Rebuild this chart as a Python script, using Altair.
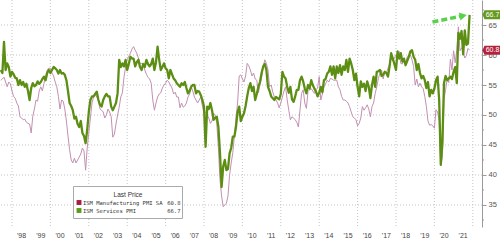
import altair as alt
import pandas as pd

series_names = ["ISM Manufacturing PMI SA", "ISM Services PMI"]
start_year, start_month = 1997, 5  # first monthly reading: May 1997

# ISM Manufacturing PMI SA, monthly (May 1997 - Oct 2021)
mfg_years = [
    [55.8, 56.0, 56.3, 55.5, 54.7, 55.5, 55.2, 54.0],
    [53.1, 52.8, 52.0, 51.5, 49.7, 49.5, 49.2, 49.3, 48.8, 48.6, 48.5, 47.0],
    [49.8, 51.0, 52.5, 52.3, 54.0, 54.7, 54.0, 55.3, 56.5, 57.5, 57.8, 57.8],
    [57.0, 56.5, 55.5, 54.7, 53.1, 51.0, 52.5, 52.3, 51.0, 49.0, 46.5, 44.2],
    [42.5, 42.0, 42.8, 42.0, 42.5, 43.0, 43.5, 44.5, 44.0, 40.8, 44.5, 47.0],
    [49.5, 52.0, 53.0, 53.5, 53.0, 52.5, 51.0, 50.8, 50.5, 49.5, 50.0, 51.0],
    [50.5, 49.7, 46.3, 46.8, 48.5, 50.0, 51.3, 53.0, 53.7, 56.3, 58.0, 59.2],
    [59.8, 60.3, 61.0, 61.4, 60.8, 60.3, 59.5, 58.6, 58.6, 58.6, 57.5, 56.8],
    [56.3, 56.0, 55.3, 52.5, 50.8, 52.0, 53.0, 53.5, 53.7, 54.5, 55.0, 55.3],
    [55.8, 55.5, 55.0, 54.5, 53.5, 53.8, 53.0, 53.0, 51.2, 52.0, 51.3, 51.5],
    [52.0, 53.0, 53.5, 54.7, 54.0, 53.0, 52.5, 52.0, 52.5, 53.0, 51.5, 50.3],
    [50.5, 50.0, 49.5, 48.6, 49.0, 50.3, 50.0, 48.6, 44.5, 39.2, 36.5, 34.7],
    [35.0, 35.3, 36.5, 40.0, 42.0, 43.7, 46.5, 49.5, 52.0, 56.5, 56.7, 56.0],
    [55.5, 56.5, 58.6, 58.2, 57.5, 56.5, 57.0, 56.0, 55.8, 53.7, 55.0, 56.3],
    [58.0, 59.2, 58.6, 57.5, 54.7, 55.0, 53.8, 53.0, 52.5, 52.0, 51.2, 52.0],
    [53.0, 54.0, 54.7, 52.5, 50.8, 49.2, 49.7, 49.5, 49.2, 48.8, 48.0, 50.8],
    [53.6, 54.2, 52.0, 51.1, 53.9, 54.2, 54.4, 54.0, 53.6, 54.2, 54.5, 56.4],
    [52.5, 53.5, 54.7, 55.2, 55.8, 55.5, 56.1, 56.0, 55.8, 55.8, 55.8, 54.7],
    [54.2, 53.1, 52.5, 52.5, 52.3, 52.0, 51.4, 50.5, 49.7, 49.5, 49.2, 48.2],
    [48.6, 49.5, 51.4, 50.8, 51.2, 51.7, 51.0, 49.7, 51.4, 52.0, 53.6, 54.7],
    [56.1, 57.0, 57.5, 56.0, 57.2, 57.0, 57.8, 58.5, 59.4, 59.0, 59.5, 60.0],
    [59.5, 60.6, 58.6, 58.5, 59.2, 58.6, 59.7, 60.0, 60.0, 59.2, 58.1, 55.0],
    [56.0, 54.7, 55.3, 54.7, 54.4, 53.1, 51.4, 49.0, 48.3, 48.4, 48.2, 47.8],
    [50.9, 50.5, 49.1, 41.5, 43.1, 52.6, 54.2, 56.0, 55.4, 59.3, 57.5, 60.7],
    [58.7, 60.8, 64.7, 60.7, 61.2, 60.6, 59.5, 59.9, 61.1, 60.8],
]

# ISM Services PMI, monthly (May 1997 - Oct 2021)
svc_years = [
    [57.5, 57.0, 62.2, 57.5, 58.6, 58.0, 56.4, 57.2],
    [56.8, 56.2, 56.1, 55.0, 55.8, 55.0, 55.5, 54.7, 55.2, 54.0, 52.5, 54.5],
    [55.3, 54.8, 55.0, 55.6, 55.2, 55.5, 56.0, 56.4, 55.8, 57.0, 57.5, 57.0],
    [57.5, 58.0, 57.8, 57.5, 56.9, 57.5, 56.9, 57.0, 56.7, 55.8, 54.0, 52.0],
    [51.5, 50.8, 49.4, 49.7, 48.5, 48.0, 49.0, 47.0, 46.5, 45.3, 47.5, 50.5],
    [52.5, 53.1, 53.1, 53.5, 53.9, 52.5, 51.7, 51.4, 52.5, 53.1, 53.5, 53.1],
    [53.1, 51.4, 50.8, 51.4, 52.0, 53.6, 59.2, 58.0, 58.6, 58.1, 59.2, 57.5],
    [58.5, 59.7, 59.4, 59.4, 58.1, 58.8, 59.2, 58.0, 57.5, 58.5, 58.0, 59.2],
    [58.5, 58.1, 58.5, 59.4, 57.5, 58.8, 61.4, 59.2, 57.5, 58.0, 58.6, 57.8],
    [57.5, 56.1, 57.5, 56.8, 56.1, 55.8, 55.3, 55.0, 54.7, 55.3, 55.0, 55.5],
    [54.5, 53.6, 54.0, 54.7, 55.0, 55.0, 53.6, 54.0, 53.9, 53.3, 52.5, 51.4],
    [44.7, 51.4, 51.0, 52.0, 50.8, 49.2, 49.5, 49.7, 48.0, 43.6, 38.0, 41.4],
    [42.5, 40.8, 41.0, 43.6, 44.5, 46.4, 46.4, 48.0, 50.5, 51.4, 49.0, 49.7],
    [50.3, 51.5, 53.1, 54.5, 55.3, 54.0, 54.7, 52.5, 53.5, 54.7, 55.5, 57.0],
    [58.1, 58.5, 57.5, 54.7, 54.0, 53.1, 52.8, 52.5, 53.0, 52.8, 52.6, 53.5],
    [57.2, 56.4, 56.1, 54.7, 53.7, 54.7, 52.6, 52.2, 53.1, 54.2, 54.2, 55.8],
    [56.4, 55.6, 54.4, 53.6, 55.0, 54.4, 55.8, 55.0, 54.4, 53.9, 53.1, 53.7],
    [54.7, 53.8, 55.8, 56.0, 56.9, 57.2, 58.1, 56.7, 58.1, 56.1, 58.1, 57.0],
    [58.3, 56.7, 58.1, 57.5, 59.2, 57.2, 59.4, 58.6, 57.5, 55.8, 56.9, 54.7],
    [53.1, 55.6, 54.7, 55.2, 54.0, 55.6, 54.7, 52.8, 55.0, 56.4, 54.7, 57.2],
    [57.3, 57.5, 56.5, 56.7, 57.2, 57.0, 56.4, 58.1, 60.3, 59.4, 58.5, 57.5],
    [60.6, 59.4, 60.3, 58.9, 59.4, 58.3, 59.0, 59.7, 60.6, 60.8, 59.7, 59.2],
    [57.5, 58.5, 57.0, 56.1, 56.5, 55.8, 54.5, 55.5, 53.1, 54.2, 53.6, 54.4],
    [55.8, 56.4, 52.5, 41.7, 45.4, 55.3, 56.5, 55.8, 56.1, 56.4, 56.0, 57.2],
    [58.0, 55.3, 63.7, 62.7, 64.0, 60.1, 64.1, 61.7, 61.9, 66.7],
]

year_labels = list(range(1998, 2022))
year_ticks = list(range(1998, 2023))
grid_years = list(range(1998, 2023, 2))
grid_values = [35, 40, 45, 50, 55, 60, 65]
minor_ticks = [32.5, 37.5, 42.5, 47.5, 52.5, 57.5, 62.5, 67.5]
arrow_t = [2019.9, 2021.5]
arrow_v = [65.5, 66.55]
legend_title = "Last Price"

mfg = [v for yr in mfg_years for v in yr]
svc = [v for yr in svc_years for v in yr]


def to_frame(vals):
    return pd.DataFrame({
        "t": [start_year + (start_month + i) / 12 for i in range(len(vals))],
        "v": vals,
    })


df_m = to_frame(mfg)
df_s = to_frame(svc)

last_vals = [mfg[-1], svc[-1]]
df_last = pd.DataFrame({
    "series": series_names,
    "v": last_vals,
    "label": [f"{v:.1f}" for v in last_vals],
    "row": [0, 1],
})

xscale = alt.Scale(domain=[1997.375, 2022.48], nice=False, zero=False)
yscale = alt.Scale(domain=[31.33, 69.17], nice=False, zero=False)

GRID = "#c4c4c4"
AX = "#9a9a9a"
RED = "#b3223d"
GREEN_BOX = "#66991f"
SWATCH = ["#a51d3d", "#5c9a1b"]

x_axis = alt.Axis(values=year_ticks, tickSize=18, labels=False, grid=False, title=None,
                  domainColor=AX, tickColor=AX, orient="bottom")
y_axis = alt.Axis(orient="right", values=grid_values,
                  tickSize=4, grid=False, title=None, labelFontSize=7.5,
                  labelColor="#555555", domainColor=AX, tickColor=AX,
                  labelPadding=2)

grid_h = alt.Chart(pd.DataFrame({"g": grid_values})).mark_rule(
    color=GRID, strokeDash=[1, 2], strokeWidth=1
).encode(y=alt.Y("g:Q", scale=yscale, axis=None))

grid_v = alt.Chart(pd.DataFrame({"g": grid_years})).mark_rule(
    color=GRID, strokeDash=[1, 2], strokeWidth=1
).encode(x=alt.X("g:Q", scale=xscale, axis=None))

minor = alt.Chart(pd.DataFrame({"g": minor_ticks})).mark_rule(
    color=AX, strokeWidth=1
).encode(
    x=alt.value(482), x2=alt.value(484),
    y=alt.Y("g:Q", scale=yscale, axis=None),
)

pink = alt.Chart(df_m).mark_line(color="#c291b1", strokeWidth=1).encode(
    x=alt.X("t:Q", scale=xscale, axis=x_axis),
    y=alt.Y("v:Q", scale=yscale, axis=y_axis),
)

green = alt.Chart(df_s).mark_line(color="#5d8e14", strokeWidth=2.3, strokeJoin="round").encode(
    x=alt.X("t:Q", scale=xscale, axis=None),
    y=alt.Y("v:Q", scale=yscale, axis=None),
)

df_arrow = pd.DataFrame({"t": arrow_t, "v": arrow_v})
arrow = alt.Chart(df_arrow).mark_line(color="#58d24a", strokeWidth=3.5, strokeDash=[6, 3]).encode(
    x=alt.X("t:Q", scale=xscale, axis=None),
    y=alt.Y("v:Q", scale=yscale, axis=None),
)
arrow_head = alt.Chart(df_arrow.tail(1)).mark_point(
    shape="triangle-right", filled=True, size=70, angle=348, color="#58d24a", opacity=1
).encode(
    x=alt.X("t:Q", scale=xscale, axis=None),
    y=alt.Y("v:Q", scale=yscale, axis=None),
)

box_colors = alt.Scale(domain=series_names, range=[RED, GREEN_BOX])
box_path = "M -1 0 L -0.78 -0.5 L 1 -0.5 L 1 0.5 L -0.78 0.5 Z"
boxes = alt.Chart(df_last).mark_point(
    shape=box_path, filled=True, size=324, opacity=1, strokeWidth=0
).encode(
    x=alt.value(491.5),
    y=alt.Y("v:Q", scale=yscale, axis=None),
    fill=alt.Fill("series:N", scale=box_colors, legend=None),
)
box_text = alt.Chart(df_last).mark_text(
    color="white", fontSize=7, font="Liberation Sans", align="center", baseline="middle"
).encode(
    x=alt.value(492.5),
    y=alt.Y("v:Q", scale=yscale, axis=None),
    text="label:N",
)

df_years = pd.DataFrame({
    "t": [y + 0.5 for y in year_labels],
    "lab": ["'" + str(y)[2:] for y in year_labels],
})
years = alt.Chart(df_years).mark_text(
    fontSize=7, color="#444444", font="Liberation Sans", baseline="middle", align="center"
).encode(
    x=alt.X("t:Q", scale=xscale, axis=None),
    y=alt.value(236),
    text="lab:N",
)

# legend box (drawn as marks)
leg_box = alt.Chart(pd.DataFrame({"k": [0]})).mark_rect(
    fill="white", stroke="#aaaaaa", strokeWidth=1
).encode(x=alt.value(73.5), x2=alt.value(182.5), y=alt.value(186.5), y2=alt.value(218.5))
leg_title = alt.Chart(pd.DataFrame({"k": [legend_title]})).mark_text(
    fontSize=6.5, font="Liberation Sans", color="#333333", align="center", baseline="middle"
).encode(x=alt.value(128), y=alt.value(194.5), text="k:N")

row_y = [202.5, 210.5]
leg_layers = []
for r in range(2):
    sub = alt.Chart(df_last).transform_filter(alt.datum.row == r)
    leg_layers.append(sub.mark_square(size=24, opacity=1, color=SWATCH[r]).encode(
        x=alt.value(79), y=alt.value(row_y[r])))
    leg_layers.append(sub.mark_text(
        fontSize=5.5, font="DejaVu Sans Mono", color="#333333", align="left", baseline="middle"
    ).encode(x=alt.value(83), y=alt.value(row_y[r]), text="series:N"))
    leg_layers.append(sub.mark_text(
        fontSize=5.5, font="DejaVu Sans Mono", color="#333333", align="right", baseline="middle"
    ).encode(x=alt.value(180.5), y=alt.value(row_y[r]), text="label:N"))

chart = alt.layer(
    grid_h, grid_v, pink, green, arrow, arrow_head, minor, boxes, box_text, years,
    leg_box, leg_title, *leg_layers
).resolve_scale(y="independent").properties(
    width=482, height=227, autosize="none",
    padding={"left": 0, "top": 0, "right": 18, "bottom": 18},
    background="white",
).configure_view(stroke=None)

chart.save("out.html", embed_options={"renderer": "svg", "actions": False})
